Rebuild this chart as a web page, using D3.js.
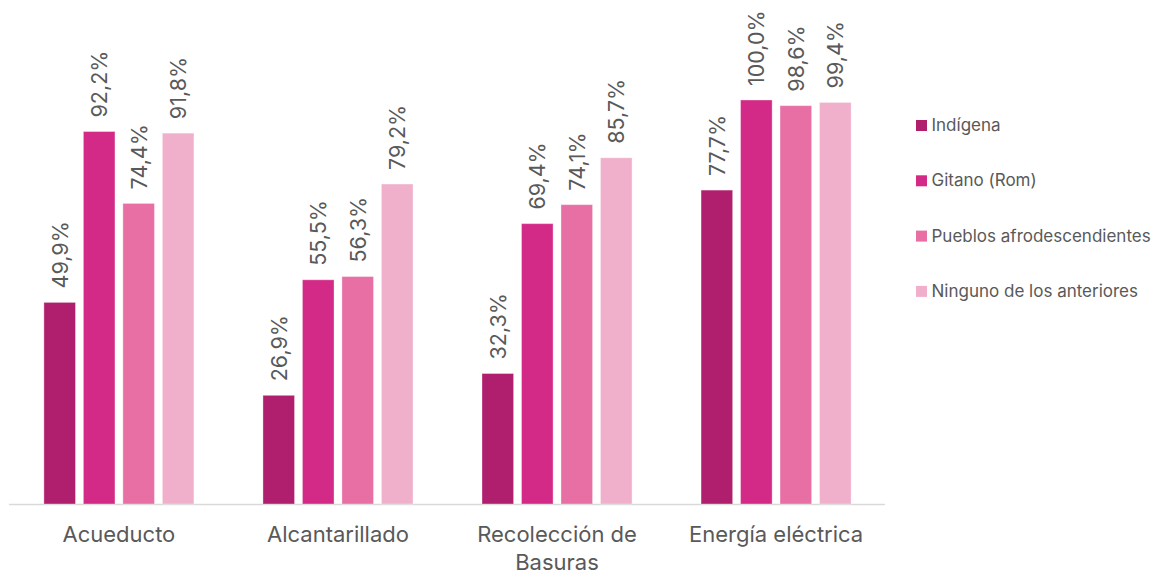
<!DOCTYPE html>
<html>
<head>
<meta charset="utf-8">
<script src="https://cdn.jsdelivr.net/npm/d3@7"></script>
<style>
  html, body { margin: 0; padding: 0; background: #fff; }
  svg { display: block; }
  text { font-family: Inter, "Open Sans", sans-serif; fill: #595959; }
</style>
</head>
<body>
<svg id="chart" width="1156" height="575"></svg>
<script>
// Servicios públicos por grupo étnico (% de hogares)
const categories = [["Acueducto"], ["Alcantarillado"], ["Recolección de", "Basuras"], ["Energía eléctrica"]];
const series = ["Indígena", "Gitano (Rom)", "Pueblos afrodescendientes", "Ninguno de los anteriores"];
const indigena = [49.9, 26.9, 32.3, 77.7];
const gitano = [92.2, 55.5, 69.4, 100.0];
const afro = [74.4, 56.3, 74.1, 98.6];
const ninguno = [91.8, 79.2, 85.7, 99.4];
const colors = ["#B01F6E", "#D42A87", "#E76FA4", "#F0B0CB"];

const values = [indigena, gitano, afro, ninguno];
const svg = d3.select("#chart");

const x0 = d3.scaleBand().domain(d3.range(categories.length)).range([9.5, 885.5]).paddingInner(0.315).paddingOuter(0.157);
const x1 = d3.scaleBand().domain(d3.range(series.length)).range([0, x0.bandwidth()]).paddingInner(0.2);
const y = d3.scaleLinear().domain([0, 100]).range([504, 100]);

// Baseline axis
svg.append("line")
  .attr("x1", 9).attr("x2", 885)
  .attr("y1", y(0) + 0.5).attr("y2", y(0) + 0.5)
  .attr("stroke", "#d9d9d9").attr("stroke-width", 1.5);

const groups = svg.selectAll("g.cat")
  .data(categories)
  .join("g")
  .attr("class", "cat")
  .attr("transform", (d, i) => `translate(${x0(i)},0)`);

groups.each(function(cat, ci) {
  const g = d3.select(this);
  series.forEach((s, si) => {
    const v = values[si][ci];
    g.append("rect")
      .attr("x", x1(si))
      .attr("y", y(v))
      .attr("width", x1.bandwidth())
      .attr("height", y(0) - y(v))
      .attr("fill", colors[si])
      .attr("stroke", "#ffffff").attr("stroke-opacity", 0.35).attr("stroke-width", 1);
    const cx = x1(si) + x1.bandwidth() / 2;
    const ly = y(v) - 14;
    g.append("text")
      .attr("transform", `translate(${cx + 8},${ly}) rotate(-90)`)
      .attr("text-anchor", "start")
      .attr("font-size", 21.5)
      .text(v.toFixed(1).replace(".", ",") + "%");
  });
  const t = g.append("text")
    .attr("x", x0.bandwidth() / 2)
    .attr("y", 542)
    .attr("text-anchor", "middle")
    .attr("font-size", 22);
  cat.forEach((line, li) => {
    t.append("tspan").attr("x", x0.bandwidth() / 2).attr("dy", li === 0 ? 0 : 28).text(line);
  });
});

// Legend
const legend = svg.append("g").attr("transform", "translate(916,0)");
series.forEach((s, i) => {
  const cy = 125.5 + i * 55.3;
  legend.append("rect").attr("x", 0).attr("y", cy - 5.5).attr("width", 11).attr("height", 11).attr("fill", colors[i]);
  legend.append("text").attr("x", 15.5).attr("y", cy + 5.5).attr("font-size", 17).text(s);
});
</script>
</body>
</html>
